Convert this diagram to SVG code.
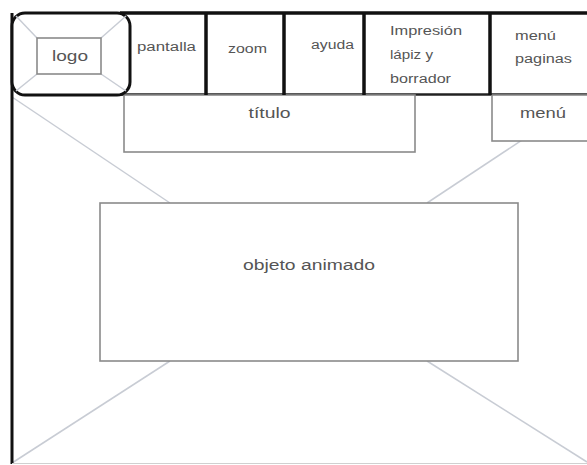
<svg xmlns="http://www.w3.org/2000/svg" width="587" height="465" viewBox="0 0 587 465">
<style>
.diag{stroke:#c8ccd4;stroke-width:1.5;fill:none}
.box{fill:#fff;stroke:#8a8a8a;stroke-width:1.6}
.frame{stroke:#111;fill:none}
.t{font-family:"Liberation Sans",Arial,sans-serif;fill:#555}
.s{font-size:12px}
.m{font-size:14px}
</style>
<rect width="587" height="465" fill="#fff"/>
<g id="connectors">
<line class="diag" x1="12" y1="97" x2="170" y2="203"/>
<line class="diag" x1="587" y1="97" x2="427" y2="203"/>
<line class="diag" x1="12" y1="463" x2="170" y2="361"/>
<line class="diag" x1="427" y1="361" x2="587" y2="462"/>
</g>
<g id="frame">
<line class="frame" x1="12" y1="13" x2="12" y2="464" stroke-width="3"/>
<line x1="12" y1="463.5" x2="587" y2="463.5" stroke="#d0d0d0" stroke-width="1.2"/>
<line class="frame" x1="120" y1="13" x2="587" y2="13" stroke-width="3.5"/>
<line x1="120" y1="94.5" x2="587" y2="94.5" stroke="#222" stroke-width="2.5"/>
</g>
<g id="titulo">
<rect class="box" x="124" y="95" width="291" height="57"/>
<text class="t m" x="269.5" y="118" text-anchor="middle" textLength="42" lengthAdjust="spacingAndGlyphs">título</text>
</g>
<g id="menu">
<rect class="box" x="492" y="95" width="100" height="46"/>
<text class="t m" x="543" y="118" text-anchor="middle" textLength="46" lengthAdjust="spacingAndGlyphs">menú</text>
</g>
<g id="logo">
<rect x="12" y="13" width="118" height="82" rx="13" fill="#fff" stroke="#111" stroke-width="3"/>
<line class="diag" x1="16" y1="16" x2="37" y2="38"/>
<line class="diag" x1="126" y1="16" x2="101" y2="38"/>
<line class="diag" x1="16" y1="91" x2="37" y2="74"/>
<line class="diag" x1="126" y1="91" x2="101" y2="74"/>
<rect class="box" x="37" y="38" width="64" height="36"/>
<text class="t m" x="70" y="61" text-anchor="middle" textLength="36" lengthAdjust="spacingAndGlyphs">logo</text>
</g>
<g id="pantalla">
<line class="frame" x1="206" y1="13" x2="206" y2="95" stroke-width="3.5"/>
<text class="t s" x="137" y="51" textLength="59" lengthAdjust="spacingAndGlyphs">pantalla</text>
</g>
<g id="zoom">
<line class="frame" x1="284" y1="13" x2="284" y2="95" stroke-width="3.5"/>
<text class="t s" x="228" y="53" textLength="39" lengthAdjust="spacingAndGlyphs">zoom</text>
</g>
<g id="ayuda">
<line class="frame" x1="364" y1="13" x2="364" y2="95" stroke-width="3.5"/>
<text class="t s" x="311" y="49" textLength="43" lengthAdjust="spacingAndGlyphs">ayuda</text>
</g>
<g id="impresion">
<line class="frame" x1="490" y1="13" x2="490" y2="95" stroke-width="3.5"/>
<text class="t s" x="390" y="35" textLength="72" lengthAdjust="spacingAndGlyphs">Impresión</text>
<text class="t s" x="390" y="59" textLength="43" lengthAdjust="spacingAndGlyphs">lápiz y</text>
<text class="t s" x="390" y="83" textLength="61" lengthAdjust="spacingAndGlyphs">borrador</text>
</g>
<g id="menu-paginas">
<text class="t s" x="515" y="40" textLength="41" lengthAdjust="spacingAndGlyphs">menú</text>
<text class="t s" x="515" y="63" textLength="57" lengthAdjust="spacingAndGlyphs">paginas</text>
</g>
<g id="objeto">
<rect class="box" x="100" y="203" width="418" height="158" stroke-width="2"/>
<text class="t m" x="309" y="270" text-anchor="middle" textLength="132" lengthAdjust="spacingAndGlyphs">objeto animado</text>
</g>
</svg>
